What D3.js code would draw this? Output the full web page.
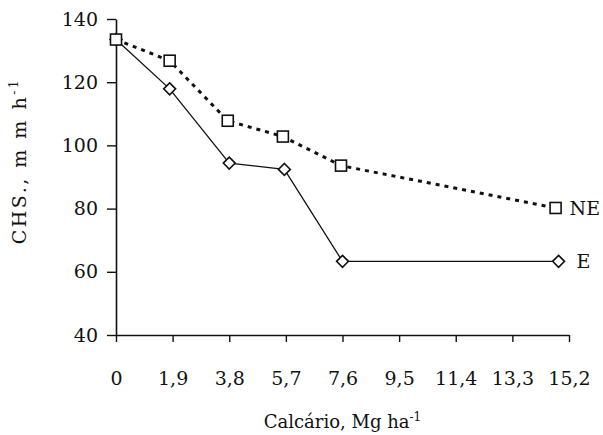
<!DOCTYPE html>
<html>
<head>
<meta charset="utf-8">
<script src="https://cdn.jsdelivr.net/npm/d3@7"></script>
<style>
  body { margin: 0; background: white; }
  text { font-family: "DejaVu Serif", "Liberation Serif", serif; fill: #111; }
</style>
</head>
<body>
<svg id="chart"></svg>
<script>
// doses de calcário (Mg/ha)
const doseNE = [0, 1.8, 3.75, 5.6, 7.55, 14.75];
const chsNE = [133.5, 126.8, 107.8, 102.8, 93.6, 80.2];
const doseE = [0, 1.8, 3.8, 5.65, 7.6, 14.85];
const chsE = [133.5, 117.9, 94.4, 92.4, 63.3, 63.3];

const xTicks = [0, 1.9, 3.8, 5.7, 7.6, 9.5, 11.4, 13.3, 15.2];
const xTickLabels = ["0", "1,9", "3,8", "5,7", "7,6", "9,5", "11,4", "13,3", "15,2"];
const yTicks = [40, 60, 80, 100, 120, 140];

const dimensions = {
    width: 603,
    height: 435,
    margin: { top: 19, right: 34, bottom: 100, left: 116 }
};
const plotW = dimensions.width - dimensions.margin.left - dimensions.margin.right;
const plotH = dimensions.height - dimensions.margin.top - dimensions.margin.bottom;

const svg = d3.select("#chart")
    .attr("width", dimensions.width)
    .attr("height", dimensions.height)
    .style("background-color", "white")
    .append("g")
    .attr("transform", `translate(${dimensions.margin.left},${dimensions.margin.top})`);

const xScale = d3.scaleLinear().domain([0, 15.2]).range([0, plotW]);
const yScale = d3.scaleLinear().domain([40, 140]).range([plotH, 0]);

// x axis
const xAxis = svg.append("g")
    .attr("transform", `translate(0, ${plotH})`)
    .call(d3.axisBottom(xScale)
        .tickValues(xTicks)
        .tickFormat((d, i) => xTickLabels[i])
        .tickSize(7)
        .tickSizeOuter(0)
        .tickPadding(30));

// y axis
const yAxis = svg.append("g")
    .call(d3.axisLeft(yScale)
        .tickValues(yTicks)
        .tickSize(9)
        .tickSizeOuter(0)
        .tickPadding(9));

[xAxis, yAxis].forEach(ax => {
    ax.select(".domain").attr("stroke", "#111").attr("stroke-width", 1.6);
    ax.selectAll(".tick line").attr("stroke", "#111").attr("stroke-width", 1.4);
    ax.selectAll(".tick text")
        .style("font-family", "'DejaVu Serif', serif")
        .style("font-size", "19px")
        .attr("fill", "#111");
});

// lines
const line = d3.line()
    .x(d => xScale(d[0]))
    .y(d => yScale(d[1]));

const ptsNE = doseNE.map((d, i) => [d, chsNE[i]]);
const ptsE = doseE.map((d, i) => [d, chsE[i]]);

svg.append("path")
    .datum(ptsE)
    .attr("fill", "none")
    .attr("stroke", "#111")
    .attr("stroke-width", 1.3)
    .attr("d", line);

svg.append("path")
    .datum(ptsNE)
    .attr("fill", "none")
    .attr("stroke", "#111")
    .attr("stroke-width", 3)
    .attr("stroke-dasharray", "4,5")
    .attr("d", line);

// markers
svg.selectAll(".mark-e")
    .data(ptsE)
    .enter().append("path")
    .attr("class", "mark-e")
    .attr("transform", d => `translate(${xScale(d[0])},${yScale(d[1])})`)
    .attr("d", d3.symbol(d3.symbolDiamond2, 90))
    .attr("fill", "white")
    .attr("stroke", "#111")
    .attr("stroke-width", 1.6);

svg.selectAll(".mark-ne")
    .data(ptsNE)
    .enter().append("rect")
    .attr("class", "mark-ne")
    .attr("x", d => xScale(d[0]) - 5.5)
    .attr("y", d => yScale(d[1]) - 5.5)
    .attr("width", 11)
    .attr("height", 11)
    .attr("fill", "white")
    .attr("stroke", "#111")
    .attr("stroke-width", 1.6);

// series labels
svg.append("text")
    .attr("x", xScale(doseNE[doseNE.length - 1]) + 14)
    .attr("y", yScale(chsNE[chsNE.length - 1]))
    .attr("dy", "0.36em")
    .style("font-size", "19px")
    .text("NE");

svg.append("text")
    .attr("x", xScale(doseE[doseE.length - 1]) + 18)
    .attr("y", yScale(chsE[chsE.length - 1]))
    .attr("dy", "0.36em")
    .style("font-size", "19px")
    .text("E");

// axis titles
const xLabel = svg.append("text")
    .attr("text-anchor", "middle")
    .attr("x", xScale(7.6))
    .attr("y", plotH + 93)
    .style("font-size", "18px");
xLabel.append("tspan").text("Calcário, Mg ha");
xLabel.append("tspan").attr("dy", "-7").style("font-size", "12px").text("-1");

const yLabel = svg.append("text")
    .attr("text-anchor", "middle")
    .attr("transform", `translate(${-90}, ${yScale(95)}) rotate(-90)`)
    .style("font-size", "19px")
    .style("letter-spacing", "2.5px");
yLabel.append("tspan").text("CHS.,  m m h");
yLabel.append("tspan").attr("dy", "-8").style("font-size", "12px").text("-1");
</script>
</body>
</html>
